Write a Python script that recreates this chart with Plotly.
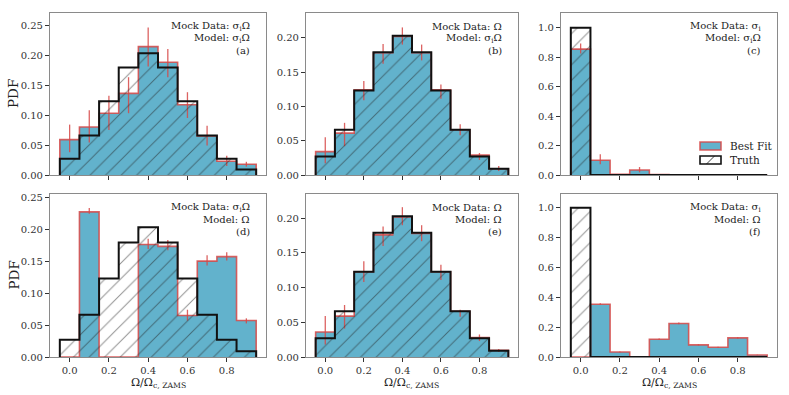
import plotly.graph_objects as go

# bin centres of the rotation-rate histograms
centers = [0.0, 0.1, 0.2, 0.3, 0.4, 0.5, 0.6, 0.7, 0.8, 0.9]
bin_width = 0.1

# truth distributions
truth_omega = [0.027, 0.066, 0.123, 0.179, 0.203, 0.179, 0.123, 0.066, 0.027, 0.009]
truth_sigma = [1.0, 0, 0, 0, 0, 0, 0, 0, 0, 0]

# best fits with upper / lower error limits
fit_a = [0.059, 0.080, 0.103, 0.136, 0.214, 0.188, 0.117, 0.065, 0.023, 0.018]
hi_a = [0.084, 0.108, 0.132, 0.163, 0.246, 0.210, 0.138, 0.082, 0.032, 0.022]
lo_a = [0.038, 0.054, 0.075, 0.103, 0.181, 0.163, 0.095, 0.049, 0.015, 0.014]

fit_b = [0.034, 0.061, 0.124, 0.178, 0.202, 0.178, 0.124, 0.066, 0.029, 0.009]
hi_b = [0.055, 0.076, 0.137, 0.191, 0.215, 0.190, 0.132, 0.074, 0.032, 0.013]
lo_b = [0.017, 0.042, 0.109, 0.162, 0.190, 0.167, 0.111, 0.058, 0.022, 0.006]

fit_c = [0.855, 0.100, 0.004, 0.034, 0.003, 0.001, 0.0, 0.0, 0.0, 0.0]
hi_c = [0.893, 0.141, 0.006, 0.054, 0.004, 0.001, 0.0, 0.0, 0.0, 0.0]
lo_c = [0.825, 0.073, 0.002, 0.018, 0.002, 0.001, 0.0, 0.0, 0.0, 0.0]

fit_d = [0.0, 0.227, 0.0, 0.0, 0.176, 0.173, 0.065, 0.150, 0.157, 0.057]
hi_d = [0.0, 0.233, 0.0, 0.0, 0.185, 0.183, 0.074, 0.159, 0.164, 0.0605]
lo_d = [0.0, 0.224, 0.0, 0.0, 0.169, 0.167, 0.057, 0.143, 0.151, 0.0526]

fit_e = [0.036, 0.059, 0.123, 0.176, 0.202, 0.178, 0.123, 0.066, 0.028, 0.0097]
hi_e = [0.059, 0.075, 0.138, 0.188, 0.216, 0.190, 0.133, 0.068, 0.0325, 0.0117]
lo_e = [0.018, 0.041, 0.108, 0.160, 0.190, 0.167, 0.111, 0.058, 0.023, 0.0073]

fit_f = [0.0, 0.354, 0.034, 0.0, 0.119, 0.225, 0.081, 0.065, 0.128, 0.0135]
hi_f = [0.0, 0.360, 0.037, 0.0, 0.124, 0.231, 0.085, 0.069, 0.133, 0.015]
lo_f = [0.0, 0.348, 0.031, 0.0, 0.114, 0.219, 0.077, 0.061, 0.123, 0.012]

mock_labels = ["σ<sub>i</sub>Ω", "Ω", "σ<sub>i</sub>", "σ<sub>i</sub>Ω", "Ω", "σ<sub>i</sub>"]
model_labels = ["σ<sub>i</sub>Ω", "σ<sub>i</sub>Ω", "σ<sub>i</sub>Ω", "Ω", "Ω", "Ω"]
panel_tags = ["(a)", "(b)", "(c)", "(d)", "(e)", "(f)"]

panels = [
    (truth_omega, fit_a, hi_a, lo_a, 0.27, 0.05, ".2f"),
    (truth_omega, fit_b, hi_b, lo_b, 0.236, 0.05, ".2f"),
    (truth_sigma, fit_c, hi_c, lo_c, 1.1, 0.2, ".1f"),
    (truth_omega, fit_d, hi_d, lo_d, 0.255, 0.05, ".2f"),
    (truth_omega, fit_e, hi_e, lo_e, 0.235, 0.05, ".2f"),
    (truth_sigma, fit_f, hi_f, lo_f, 1.093, 0.2, ".1f"),
]

W, H = 789, 395
col_px = [(50, 266), (306, 518), (561, 777)]
row_px = [(13, 175), (194, 357)]

BLUE = "#62b2cc"
RED = "rgba(214,72,70,0.85)"
FONT = "DejaVu Serif"
SPINE = "#8a8a8a"


def step_xy(values):
    edges = [c - bin_width / 2 for c in centers] + [centers[-1] + bin_width / 2]
    xs = [edges[0]] + edges[:-1] + [edges[-1]]
    ys = [0] + list(values) + [0]
    return xs, ys


fig = go.Figure()
annotations = []
shapes = []

for i, (truth, fit, hi, lo, ymax, dtick, fmt) in enumerate(panels):
    r, c = divmod(i, 3)
    n = i + 1
    xa = "x" if n == 1 else f"x{n}"
    ya = "y" if n == 1 else f"y{n}"

    fx, fy = step_xy(fit)
    fig.add_trace(go.Scatter(
        x=fx, y=fy, xaxis=xa, yaxis=ya, mode="lines", line_shape="hv",
        line=dict(color=RED, width=1.6), fill="tozeroy", fillcolor=BLUE,
        showlegend=False, hoverinfo="skip",
    ))
    fig.add_trace(go.Scatter(
        x=centers, y=fit, xaxis=xa, yaxis=ya, mode="markers",
        marker=dict(size=1, color="rgba(0,0,0,0)"),
        error_y=dict(type="data", symmetric=False,
                     array=[h - v for h, v in zip(hi, fit)],
                     arrayminus=[v - l for v, l in zip(fit, lo)],
                     color=RED, thickness=1.3, width=0),
        showlegend=False, hoverinfo="skip",
    ))
    tx, ty = step_xy(truth)
    fig.add_trace(go.Scatter(
        x=tx, y=ty, xaxis=xa, yaxis=ya, mode="lines", line_shape="hv",
        line=dict(color="#111111", width=2), fill="tozeroy",
        fillcolor="rgba(0,0,0,0)",
        fillpattern=dict(shape="/", fgcolor="#222222", bgcolor="rgba(0,0,0,0)",
                         size=11, solidity=0.09),
        showlegend=False, hoverinfo="skip",
    ))

    x0, x1 = col_px[c]
    y0, y1 = row_px[r]
    xkey = "xaxis" if n == 1 else f"xaxis{n}"
    ykey = "yaxis" if n == 1 else f"yaxis{n}"
    fig.layout[xkey] = dict(
        domain=[x0 / W, x1 / W], anchor=ya, range=[-0.1, 1.0],
        tickvals=[0, 0.2, 0.4, 0.6, 0.8], tickformat=".1f",
        showticklabels=(r == 1), ticks="outside", ticklen=4, tickcolor="#333",
        showline=True, mirror=True, linecolor=SPINE, linewidth=1.2,
        showgrid=False, zeroline=False, automargin=False,
    )
    fig.layout[ykey] = dict(
        domain=[1 - y1 / H, 1 - y0 / H], anchor=xa, range=[0, ymax],
        dtick=dtick, tick0=0, tickformat=fmt, ticks="outside", ticklen=4,
        tickcolor="#333", showline=True, mirror=True, linecolor=SPINE, linewidth=1.2,
        showgrid=False, zeroline=False, automargin=False,
    )
    # axis titles
    if r == 1:
        annotations.append(dict(
            xref="paper", yref="paper", x=(x0 + x1) / 2 / W, y=1 - 374 / H,
            xanchor="center", yanchor="top", showarrow=False,
            text="Ω/Ω<sub>c, ZAMS</sub>", font=dict(size=11, color="#222"),
        ))
    if c == 0:
        annotations.append(dict(
            xref="paper", yref="paper", x=13 / W, y=1 - (y0 + y1) / 2 / H,
            xanchor="center", yanchor="middle", showarrow=False, textangle=-90,
            text="PDF", font=dict(size=13.5, color="#222"),
        ))
    lines = [f"Mock Data: {mock_labels[i]}", f"Model: {model_labels[i]}", panel_tags[i]]
    offsets = [13, 25.5, 37.5]
    for txt, off in zip(lines, offsets):
        annotations.append(dict(
            xref="paper", yref="paper", x=(x1 - 14) / W, y=1 - (y0 + off) / H,
            xanchor="right", yanchor="middle", align="right", showarrow=False,
            text=txt, font=dict(size=10, color="#222"),
        ))

# legend drawn in panel (c)
legend_items = ["Best Fit", "Truth"]
legend_rows = [146, 160]
for label, yc in zip(legend_items, legend_rows):
    bx0, bx1 = 700 / W, 721 / W
    by0, by1 = 1 - (yc + 4) / H, 1 - (yc - 4) / H
    if label == "Best Fit":
        shapes.append(dict(type="rect", xref="paper", yref="paper",
                           x0=bx0, x1=bx1, y0=by0, y1=by1,
                           fillcolor=BLUE, line=dict(color=RED, width=1.6)))
    else:
        shapes.append(dict(type="rect", xref="paper", yref="paper",
                           x0=bx0, x1=bx1, y0=by0, y1=by1,
                           fillcolor="white", line=dict(color="#111", width=1.6)))
        shapes.append(dict(type="line", xref="paper", yref="paper",
                           x0=(bx0 + bx1) / 2 - 4 / W, x1=(bx0 + bx1) / 2 + 4 / W,
                           y0=by0, y1=by1, line=dict(color="#111", width=0.8)))
    annotations.append(dict(xref="paper", yref="paper", x=728 / W, y=1 - yc / H,
                            xanchor="left", yanchor="middle", showarrow=False,
                            text=label, font=dict(size=10.5, color="#222")))

fig.update_layout(
    width=W, height=H, margin=dict(l=0, r=0, t=0, b=0),
    paper_bgcolor="white", plot_bgcolor="white",
    font=dict(family=FONT, size=10, color="#333"),
    annotations=annotations, shapes=shapes, showlegend=False,
)

fig.write_html("out.html", config={"displayModeBar": False},
               post_script="document.body.style.margin='0';")
